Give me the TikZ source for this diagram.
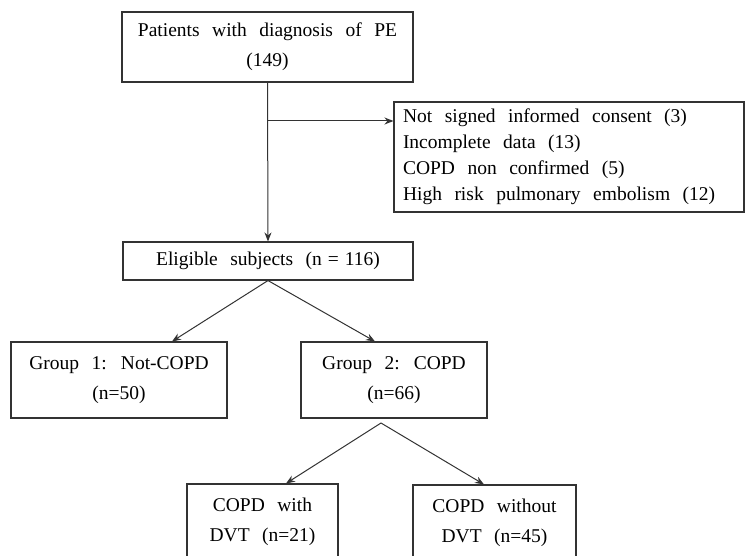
\documentclass[tikz,border=0pt]{standalone}
\usepackage{fontspec}
\setmainfont{Liberation Serif}
\usetikzlibrary{arrows.meta}
\definecolor{linec}{HTML}{333333}
\newcommand\widesp{\spaceskip=12.5pt plus 2pt minus 1pt\relax}
\begin{document}
\begin{tikzpicture}[x=1pt,y=-1pt,
  box/.style={draw=linec, line width=1.1pt, inner sep=0pt, align=center,
    font=\fontsize{19.5}{30}\selectfont, execute at begin node=\widesp},
  conn/.style={draw=linec, line width=1pt, -{Stealth[length=9pt,width=7pt]}}]
\useasboundingbox (0,0) rectangle (747,556);
\clip (0,0) rectangle (747,556);
\node[box, minimum width=291pt, minimum height=70pt] (top) at (267.5,47)
  {Patients with diagnosis of PE\\(149)};
\node[box, minimum width=350pt, minimum height=110pt, text width=332pt, align=left,
  font=\fontsize{19.5}{26}\selectfont] (excl) at (569,157)
  {Not signed informed consent (3)\\Incomplete data (13)\\COPD non confirmed (5)\\High risk pulmonary embolism (12)};
\node[box, minimum width=290pt, minimum height=38pt] (elig) at (268,261)
  {Eligible subjects (n\hspace{6pt}=\hspace{6pt}116)};
\node[box, minimum width=216pt, minimum height=76pt] (g1) at (119,380)
  {Group 1: Not-COPD\\(n=50)};
\node[box, minimum width=186pt, minimum height=76pt] (g2) at (394,380)
  {Group 2: COPD\\(n=66)};
\node[box, minimum width=151pt, minimum height=76pt] (d1) at (262.5,522)
  {COPD with\\DVT (n=21)};
\node[box, minimum width=163pt, minimum height=76pt] (d2) at (494.5,523)
  {COPD without\\DVT (n=45)};
\coordinate (br) at (267.5,121);
\coordinate (apex) at (381,423);
\draw[conn] (top.south) -- (elig.north);
\draw[conn] (br) -- (br -| excl.west);
\draw[conn] (elig.south) -- ([xshift=53pt]g1.north);
\draw[conn] (elig.south) -- ([xshift=-19pt]g2.north);
\draw[conn] (apex) -- ([xshift=23.5pt]d1.north);
\draw[conn] (apex) -- ([xshift=-10.5pt]d2.north);
\end{tikzpicture}
\end{document}
